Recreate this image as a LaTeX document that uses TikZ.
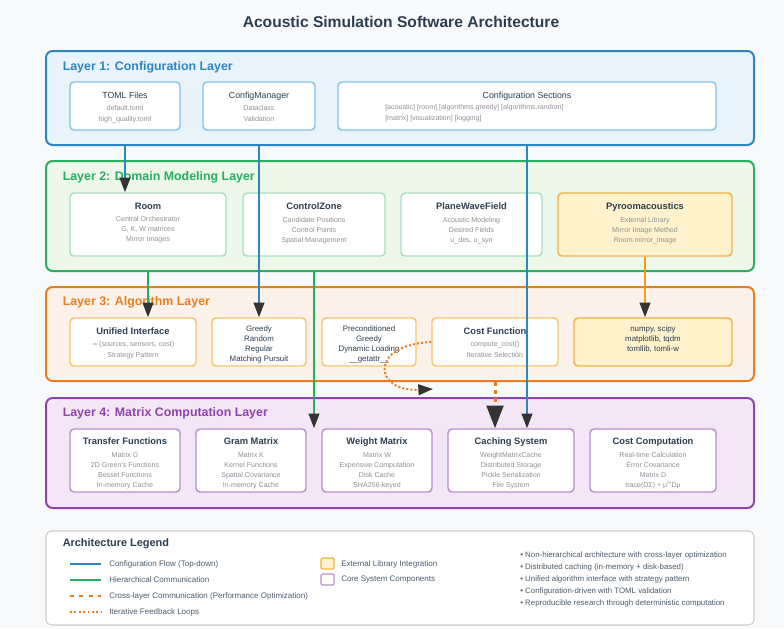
\documentclass[tikz,border=0pt]{standalone}
\usepackage{fontspec}
\setmainfont{Liberation Sans}
\newfontfamily\dvsans{DejaVu Sans}
\usetikzlibrary{arrows.meta,fit}
\definecolor{bg}{HTML}{F8F9FA}
\definecolor{ink}{HTML}{2C3E50}
\definecolor{subg}{HTML}{8C9196}
\definecolor{cblue}{HTML}{2E86C1}
\definecolor{fblue}{HTML}{E8F4FA}
\definecolor{nblue}{HTML}{85C1E9}
\definecolor{cgreen}{HTML}{27AE60}
\definecolor{fgreen}{HTML}{EEF8EA}
\definecolor{ngreen}{HTML}{A9DFBF}
\definecolor{corange}{HTML}{E67E22}
\definecolor{forange}{HTML}{FDF2E9}
\definecolor{norange}{HTML}{F8C471}
\definecolor{cpurple}{HTML}{8E44AD}
\definecolor{fpurple}{HTML}{F4E6F7}
\definecolor{npurple}{HTML}{BB8FCE}
\definecolor{fext}{HTML}{FFF2CC}
\definecolor{next}{HTML}{F5B041}
\definecolor{cline}{HTML}{F39C12}
\definecolor{tipc}{HTML}{333333}
\definecolor{legb}{HTML}{CCCCCC}
\newcommand\ttl[1]{{\fontsize{7}{8}\selectfont\bfseries\color{ink}#1}}
\newcommand\rtl[1]{{\fontsize{6.6}{8}\selectfont\color{ink}#1}}
\tikzset{
  layerbox/.style 2 args={draw=#1, fill=#2, rounded corners=5pt, line width=1.5pt, inner sep=0pt},
  layertitle/.style={anchor=west, inner sep=0pt, font=\fontsize{9.3}{11}\selectfont\bfseries, text=#1},
  nbox/.style={draw=#1, fill=white, rounded corners=3pt, line width=1.1pt, inner sep=0pt},
  extbox/.style={draw=next, fill=fext, rounded corners=3pt, line width=1.1pt, inner sep=0pt},
  txt/.style={anchor=north, align=center, inner sep=0pt, font=\fontsize{5.3}{7.5}\selectfont, text=subg},
  txtb/.style={anchor=north, align=center, inner sep=0pt, font=\fontsize{5.3}{8.25}\selectfont, text=subg},
  darktext/.style={anchor=north, align=center, inner sep=0pt, font=\fontsize{5.9}{7.5}\selectfont, text=ink},
  tipa/.style={-{Triangle[length=11pt,width=8pt,color=tipc]}},
  tipb/.style={-{Triangle[length=17pt,width=12.5pt,color=tipc]}},
  bluel/.style={draw=cblue, line width=1.5pt},
  greenl/.style={draw=cgreen, line width=1.5pt},
  orangel/.style={draw=cline, line width=1.5pt},
  crossl/.style={draw=corange, line width=2.25pt, dash pattern=on 3pt off 3pt},
  loopl/.style={draw=corange, line width=1.5pt, dash pattern=on 1.5pt off 1.6pt},
  legtext/.style={anchor=west, inner sep=0pt, font=\fontsize{6}{7}\selectfont, text=ink!85},
}
\begin{document}
\begin{tikzpicture}[x=0.75pt,y=-0.75pt]
\fill[bg] (0,0) rectangle (784,628);
\useasboundingbox (0,0) rectangle (784,628);
\node[font=\fontsize{11.7}{14}\selectfont\bfseries, text=ink] (title) at (401,22) {Acoustic Simulation Software Architecture};

% ---------- Layer boxes
\node[layerbox={cblue}{fblue}, fit={(46,51) (754,145)}] (L1) {};
\node[layerbox={cgreen}{fgreen}, fit={(46,161) (754,271)}] (L2) {};
\node[layerbox={corange}{forange}, fit={(46,287) (754,381)}] (L3) {};
\node[layerbox={cpurple}{fpurple}, fit={(46,398) (754,508)}] (L4) {};
\node[layertitle=cblue] (L1t) at (62.5,67) {Layer 1: Configuration Layer};
\node[layertitle=cgreen] (L2t) at (62.5,177) {Layer 2: Domain Modeling Layer};
\node[layertitle=corange] (L3t) at (62.5,302) {Layer 3: Algorithm Layer};
\node[layertitle=cpurple] (L4t) at (62.5,413) {Layer 4: Matrix Computation Layer};

% ---------- Layer 1 nodes
\node[nbox=nblue, fit={(70,82) (180,130)}] (toml) {};
\node[txtb] (tomlT) at ([yshift=-8pt]toml.north) {\rtl{TOML Files}\\[0.8pt]default.toml\\high\_quality.toml};
\node[nbox=nblue, fit={(203,82) (315,130)}] (cfgm) {};
\node[txtb] (cfgmT) at ([yshift=-8pt]cfgm.north) {\rtl{ConfigManager}\\[0.8pt]Dataclass\\Validation};
\node[nbox=nblue, fit={(338,82) (716,130)}] (cfgs) {};
\node[txtb] (cfgsT) at ([yshift=-8pt]cfgs.north) {\rtl{Configuration Sections}};
\node[anchor=west, align=left, inner sep=0pt, font=\fontsize{5.3}{8.25}\selectfont, text=subg] (cfgsL) at (385,113.5)
  {[acoustic] [room] [algorithms.greedy] [algorithms.random]\\{}[matrix] [visualization] [logging]};

% ---------- Layer 2 nodes
\node[nbox=ngreen, fit={(70,193) (226,256)}] (room) {};
\node[txt] (roomT) at ([yshift=-8pt]room.north) {\ttl{Room}\\[1.6pt]Central Orchestrator\\G, K, W matrices\\Mirror Images};
\node[nbox=ngreen, fit={(243,193) (385,256)}] (cz) {};
\node[txt] (czT) at ([yshift=-8pt]cz.north) {\ttl{ControlZone}\\[1.6pt]Candidate Positions\\Control Points\\Spatial Management};
\node[nbox=ngreen, fit={(401,193) (542,256)}] (pwf) {};
\node[txt] (pwfT) at ([yshift=-8pt]pwf.north) {\ttl{PlaneWaveField}\\[1.6pt]Acoustic Modeling\\Desired Fields\\u\_des, u\_syn};
\node[extbox, fit={(558,193) (732,256)}] (pyro) {};
\node[txt] (pyroT) at ([yshift=-8pt]pyro.north) {\ttl{Pyroomacoustics}\\[1.6pt]External Library\\Mirror Image Method\\Room.mirror\_image};

% ---------- Layer 3 nodes
\node[nbox=norange, fit={(70,318) (196,366)}] (unif) {};
\node[txtb] (unifT) at ([yshift=-7.3pt]unif.north)
  {\ttl{Unified Interface}\\[0.8pt]{\dvsans\fontsize{4.8}{7.5}\selectfont →} (sources, sensors, cost)\\Strategy Pattern};
\node[nbox=norange, fit={(212,318) (306,366)}] (greedy) {};
\node[darktext] (greedyT) at ([yshift=-6.25pt]greedy.north) {Greedy\\Random\\Regular\\Matching Pursuit};
\node[nbox=norange, fit={(322,318) (416,366)}] (precond) {};
\node[darktext] (precondT) at ([yshift=-6.25pt]precond.north) {Preconditioned\\Greedy\\Dynamic Loading\\\_\_getattr\_\_};
\node[nbox=norange, fit={(432,318) (558,366)}] (cost) {};
\node[txtb] (costT) at ([yshift=-7.3pt]cost.north) {\ttl{Cost Function}\\[0.8pt]compute\_cost()\\Iterative Selection};
\node[extbox, fit={(574,318) (732,366)}] (numpy) {};
\node[darktext] (numpyT) at ([yshift=-6.25pt]numpy.north) {numpy, scipy\\matplotlib, tqdm\\tomllib, tomli-w};

% ---------- Layer 4 nodes
\node[nbox=npurple, fit={(70,429) (180,492)}] (tf) {};
\node[txt] (tfT) at ([yshift=-7.25pt]tf.north)
  {\ttl{Transfer Functions}\\[1.6pt]Matrix G\\2D Green's Functions\\Bessel Functions\\In-memory Cache};
\node[nbox=npurple, fit={(196,429) (306,492)}] (gram) {};
\node[txt] (gramT) at ([yshift=-7.25pt]gram.north)
  {\ttl{Gram Matrix}\\[1.6pt]Matrix K\\Kernel Functions\\Spatial Covariance\\In-memory Cache};
\node[nbox=npurple, fit={(322,429) (432,492)}] (weight) {};
\node[txt] (weightT) at ([yshift=-7.25pt]weight.north)
  {\ttl{Weight Matrix}\\[1.6pt]Matrix W\\Expensive Computation\\Disk Cache\\SHA256-keyed};
\node[nbox=npurple, fit={(448,429) (574,492)}] (cache) {};
\node[txt] (cacheT) at ([yshift=-7.25pt]cache.north)
  {\ttl{Caching System}\\[1.6pt]WeightMatrixCache\\Distributed Storage\\Pickle Serialization\\File System};
\node[nbox=npurple, fit={(590,429) (716,492)}] (costc) {};
\node[txt] (costcT) at ([yshift=-7.25pt]costc.north)
  {\ttl{Cost Computation}\\[1.6pt]Real-time Calculation\\Error Covariance\\Matrix D\\trace(DΣ) + μ\textsuperscript{H}Dμ};

% ---------- Connectors
\draw[bluel, tipa] (toml.south |- L1.south) -- (toml.south |- room.north);
\draw[bluel, tipa] (cfgm.south |- L1.south) -- (cfgm.south |- greedy.north);
\draw[bluel, tipa] (cfgs.south |- L1.south) -- (cfgs.south |- cache.north);
\draw[greenl, tipa] (room.south |- L2.south) -- (room.south |- unif.north);
\draw[greenl, tipa] (cz.south |- L2.south) -- (cz.south |- weight.north);
\draw[orangel, tipa] (pyro.south) -- (pyro.south |- numpy.north);
\draw[crossl, tipb] (cost.south |- L3.south) -- (cost.south |- cache.north);
\coordinate (loopend) at (433,389);
\draw[loopl, tipa] (cost.west) .. controls (368,345) and (374,392) .. (loopend);

% ---------- Legend
\node[draw=legb, fill=white, rounded corners=4pt, line width=0.8pt, inner sep=0pt, fit={(46,531) (754,625)}] (leg) {};
\node[anchor=west, inner sep=0pt, font=\fontsize{8.2}{10}\selectfont\bfseries, text=ink] (legT) at (62.5,544) {Architecture Legend};
\coordinate (a1) at (70,564); \coordinate (b1) at (101,564);
\coordinate (a2) at (70,580); \coordinate (b2) at (101,580);
\coordinate (a3) at (70,596); \coordinate (b3) at (101,596);
\coordinate (a4) at (70,612); \coordinate (b4) at (101,612);
\draw[bluel] (a1) -- (b1);
\draw[greenl] (a2) -- (b2);
\draw[draw=corange, line width=2.2pt, dash pattern=on 3pt off 4pt] (a3) -- (b3);
\draw[draw=corange, line width=1.3pt, dash pattern=on 1.4pt off 1.9pt] (a4) -- (b4);
\node[legtext] (l1) at (109,564) {Configuration Flow (Top-down)};
\node[legtext] (l2) at (109,580) {Hierarchical Communication};
\node[legtext] (l3) at (109,596) {Cross-layer Communication (Performance Optimization)};
\node[legtext] (l4) at (109,612) {Iterative Feedback Loops};
\node[draw=next, fill=fext, line width=0.9pt, inner sep=0pt, rounded corners=1pt, fit={(321,558) (334,569)}] (sq1) {};
\node[draw=npurple, fill=white, line width=0.9pt, inner sep=0pt, rounded corners=1pt, fit={(321,574) (334,585)}] (sq2) {};
\node[legtext] (l5) at (341,564) {External Library Integration};
\node[legtext] (l6) at (341,580) {Core System Components};
\node[anchor=north west, align=left, inner sep=0pt, font=\fontsize{5.9}{8.9}\selectfont, text=ink!85] (bul) at (520,552)
  {• Non-hierarchical architecture with cross-layer optimization\\
   • Distributed caching (in-memory + disk-based)\\
   • Unified algorithm interface with strategy pattern\\
   • Configuration-driven with TOML validation\\
   • Reproducible research through deterministic computation};
\end{tikzpicture}
\end{document}
